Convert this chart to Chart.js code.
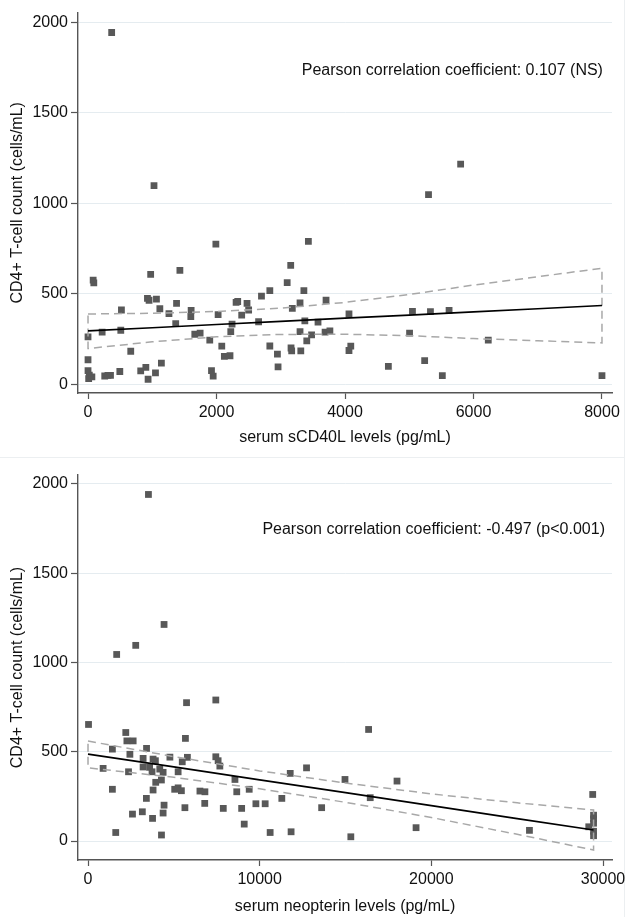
<!DOCTYPE html>
<html>
<head>
<meta charset="utf-8">
<script src="https://cdn.jsdelivr.net/npm/chart.js@4.4.1/dist/chart.umd.min.js"></script>
<style>
  body { margin: 0; background: #fff; }
  #wrap { position: relative; width: 630px; height: 917px; }
  canvas { position: absolute; left: 0; }
  #chart-top { top: 0; }
  #chart-bottom { top: 458px; }
  .rule-h { position: absolute; left: 0; top: 457px; width: 625px; height: 1px; background: #eceff1; }
  .rule-v { position: absolute; left: 624px; top: 0; width: 1px; height: 917px; background: #eceff1; }
</style>
</head>
<body>
<div id="wrap">
  <canvas id="chart-top" width="630" height="456"></canvas>
  <div class="rule-h"></div>
  <div class="rule-v"></div>
  <canvas id="chart-bottom" width="630" height="459"></canvas>
</div>
<script>
// Top panel: serum sCD40L (pg/mL) vs CD4+ count
const sCd40lX = [0, 0, 0, 20, 10, 60, 80, 90, 260, 310, 350, 220, 510, 520, 495, 665, 820, 900, 935, 975,
  925, 950, 1065, 1050, 1118, 1142, 1260, 1378, 1365, 1430, 1605, 1600, 1662, 1745, 1895, 1922, 1948, 1990,
  2025, 2082, 2122, 2210, 2222, 2242, 2305, 2330, 2392, 2475, 2500, 2655, 2700, 2830, 2830, 2948, 2958, 3100,
  3155, 3180, 3160, 3170, 3300, 3300, 3312, 3360, 3375, 3405, 3430, 3480, 3580, 3705, 3690, 3765, 4062, 4062,
  4090, 4675, 5005, 5050, 5330, 5240, 5515, 5620, 6230, 8000, 5800, 5300, 368, 1027];
const sCd40lCd4 = [262, 135, 75, 50, 30, 40, 575, 560, 45, 49, 49, 288, 298, 410, 70, 182, 73, 93, 27, 607,
  474, 464, 470, 62, 417, 116, 390, 447, 335, 629, 408, 373, 276, 282, 243, 75, 44, 774,
  385, 210, 153, 157, 290, 332, 452, 457, 382, 447, 410, 345, 487, 211, 517, 166, 96, 562,
  657, 419, 200, 184, 450, 290, 184, 517, 350, 239, 790, 273, 343, 464, 288, 295, 388, 186,
  210, 98, 282, 402, 401, 130, 47, 408, 244, 47, 1217, 1048, 1945, 1098];

// fitted line and 95% CI for top panel
const sCd40lFitX = [0, 1000, 2000, 3000, 4000, 5000, 6000, 7000, 8000];
const sCd40lFit = [295, 312, 330, 347, 365, 382, 400, 417, 435];
const sCd40lUpper = [388, 392, 402, 420, 452, 496, 548, 594, 641];
const sCd40lLower = [197, 234, 262, 275, 276, 268, 252, 240, 228];

// Bottom panel: serum neopterin (pg/mL) vs CD4+ count
const neoX = [30, 880, 1420, 1420, 1615, 2200, 2265, 2630, 2440, 2360, 2590, 3165, 3410, 3210, 3210, 3400,
  3760, 3590, 3730, 3790, 3925, 3945, 3790, 4280, 4180, 4375, 4275, 4430, 4375, 4770, 5050, 5250, 5440, 5250,
  5490, 5645, 5740, 5675, 5790, 6520, 6810, 6800, 7445, 7445, 7580, 7680, 7880, 8560, 8665, 8950, 9100, 9390,
  9780, 10320, 10610, 11290, 11780, 11830, 12730, 13610, 14970, 15310, 16345, 16440, 18000, 19110, 25715,
  29400, 29170, 29450, 29450, 29450, 29450, 29450, 1670, 2780, 4430, 3520];
const neoCd4 = [653, 407, 515, 290, 48, 608, 561, 561, 486, 388, 151, 164, 519, 463, 415, 239,
  127, 413, 388, 459, 450, 329, 286, 34, 403, 385, 342, 201, 157, 470, 290, 298, 282, 388,
  444, 187, 775, 575, 469, 280, 276, 211, 790, 472, 450, 420, 183, 345, 276, 183, 95, 290,
  209, 209, 48, 239, 379, 52, 410, 187, 345, 24, 625, 243, 336, 75, 60,
  261, 80, 30, 55, 100, 125, 145, 1045, 1096, 1213, 1941];

const neoFitX = [0, 5000, 10000, 15000, 20000, 25000, 29450];
const neoFit = [487, 415, 343, 271, 198, 126, 62];
const neoUpper = [560, 473, 393, 325, 264, 214, 174];
const neoLower = [410, 357, 293, 217, 132, 38, -50];

// tick labels
const cd4Ticks = [0, 500, 1000, 1500, 2000];
const sCd40lTicks = [0, 2000, 4000, 6000, 8000];
const neoTicks = [0, 10000, 20000, 30000];

const FONT = '"Liberation Sans", Arial, sans-serif';

// draws the correlation note inside the plot
const notePlugin = {
    id: 'note',
    afterDatasetsDraw(chart, args, opts) {
        const { ctx, scales } = chart;
        ctx.save();
        ctx.font = '16px ' + FONT;
        ctx.fillStyle = '#111';
        ctx.textAlign = 'right';
        ctx.textBaseline = 'middle';
        ctx.fillText(opts.text, scales.x.getPixelForValue(opts.x), scales.y.getPixelForValue(opts.y));
        ctx.restore();
    }
};

function toPoints(xs, ys) {
    return xs.map((x, i) => ({ x: x, y: ys[i] }));
}

// closed outline of the confidence band: upper going right, lower coming back
function bandOutline(xs, upper, lower) {
    const pts = toPoints(xs, upper);
    for (let i = xs.length - 1; i >= 0; i--) pts.push({ x: xs[i], y: lower[i] });
    pts.push({ x: xs[0], y: upper[0] });
    return pts;
}

// plain numbers, no thousands separator
const plain = v => String(v);

function makePanel(id, p) {
    return new Chart(id, {
        type: 'scatter',
        data: {
            datasets: [
                {
                    data: toPoints(p.fitX, p.fit),
                    showLine: true,
                    borderColor: '#000',
                    borderWidth: 1.7,
                    pointRadius: 0,
                    order: 1,
                },
                {
                    data: bandOutline(p.fitX, p.upper, p.lower),
                    showLine: true,
                    borderColor: '#a8a8a8',
                    borderWidth: 1.5,
                    borderDash: [8, 5],
                    pointRadius: 0,
                    order: 2,
                },
                {
                    data: toPoints(p.xs, p.ys),
                    pointStyle: 'rect',
                    pointRadius: 4.8,
                    backgroundColor: '#585858',
                    borderColor: '#585858',
                    borderWidth: 0,
                    order: 3,
                }
            ]
        },
        plugins: [notePlugin],
        options: {
            responsive: false,
            animation: false,
            layout: { padding: { top: p.top, right: 18, left: 0, bottom: 0 } },
            plugins: {
                legend: { display: false },
                tooltip: { enabled: false },
                note: p.note,
            },
            scales: {
                x: {
                    type: 'linear',
                    min: p.xMin,
                    max: p.xMax,
                    afterBuildTicks: s => { s.ticks = p.xTicks.map(v => ({ value: v })); },
                    afterFit: s => { s.height = p.xHeight; },
                    grid: { drawOnChartArea: false, tickLength: 6, tickColor: '#555', tickWidth: 1.2 },
                    border: { color: '#555', width: 1.4 },
                    ticks: { color: '#111', font: { family: FONT, size: 16 }, padding: 4, maxRotation: 0, callback: plain },
                    title: { display: true, text: p.xTitle, color: '#111', font: { family: FONT, size: 16 }, padding: { top: 0, bottom: p.xTitlePad } },
                },
                y: {
                    type: 'linear',
                    min: p.yMin,
                    max: p.yMax,
                    afterBuildTicks: s => { s.ticks = cd4Ticks.map(v => ({ value: v })); },
                    afterFit: s => { s.width = 78; },
                    grid: { color: '#e5ecf0', lineWidth: 1, tickLength: 7, tickColor: '#555', tickWidth: 1.2 },
                    border: { color: '#555', width: 1.4 },
                    ticks: { color: '#111', font: { family: FONT, size: 16 }, padding: 3, callback: plain },
                    title: { display: true, text: 'CD4+ T-cell count (cells/mL)', color: '#111', font: { family: FONT, size: 16 }, padding: { top: 8, bottom: 0 } },
                }
            }
        }
    });
}

makePanel('chart-top', {
    xs: sCd40lX, ys: sCd40lCd4,
    fitX: sCd40lFitX, fit: sCd40lFit, upper: sCd40lUpper, lower: sCd40lLower,
    xTicks: sCd40lTicks, xMin: -156, xMax: 8156,
    yMin: -49, yMax: 2055,
    top: 8, xHeight: 63, xTitlePad: 9,
    xTitle: 'serum sCD40L levels (pg/mL)',
    note: { text: 'Pearson correlation coefficient: 0.107 (NS)', x: 8015, y: 1732 },
});

makePanel('chart-bottom', {
    xs: neoX, ys: neoCd4,
    fitX: neoFitX, fit: neoFit, upper: neoUpper, lower: neoLower,
    xTicks: neoTicks, xMin: -583, xMax: 30524,
    yMin: -106, yMax: 2050,
    top: 17, xHeight: 57, xTitlePad: 1,
    xTitle: 'serum neopterin levels (pg/mL)',
    note: { text: 'Pearson correlation coefficient: -0.497 (p<0.001)', x: 30115, y: 1742 },
});
</script>
</body>
</html>
